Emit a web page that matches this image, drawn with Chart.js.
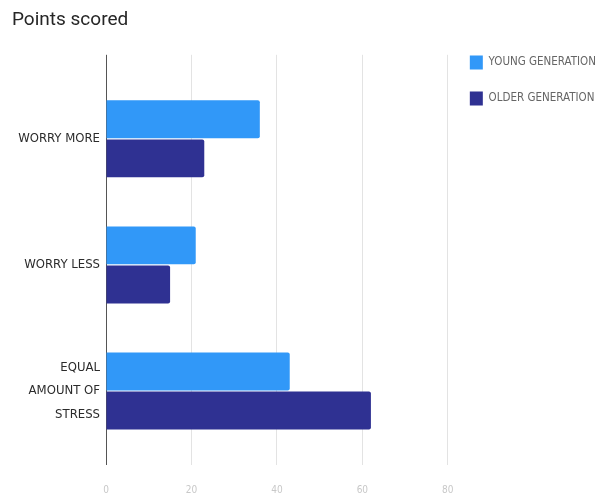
<!DOCTYPE html>
<html>
<head>
<meta charset="utf-8">
<script src="https://cdn.jsdelivr.net/npm/chart.js@4"></script>
<style>
  html, body { margin: 0; padding: 0; background: #fff; }
  #wrap { width: 606px; height: 497px; }
</style>
</head>
<body>
<div id="wrap"><canvas id="grafico"></canvas></div>
<script>
// dados
const categorias = ['WORRY MORE', 'WORRY LESS', ['EQUAL', 'AMOUNT OF', 'STRESS']];
const jovens = [36, 21, 43];
const velhos = [23, 15, 62];
const serieNomes = ['YOUNG GENERATION', 'OLDER GENERATION'];
const eixoMin = 0;
const eixoMax = 80;
const eixoPasso = 20;

const fonteEstreita = "'DejaVu Sans Condensed', 'Roboto', sans-serif";
// linha do zero escura, resto cinza claro
const corGrade = (ctx) => (ctx.tick && ctx.tick.value === 0 ? '#555' : '#e3e3e3');

function desenhar() {
    const ctx = document.getElementById('grafico').getContext('2d');
    new Chart(ctx, {
        type: 'bar',
        data: {
            labels: categorias,
            datasets: [
                {
                    label: serieNomes[0],
                    data: jovens,
                    backgroundColor: '#3198f8',
                    borderRadius: 2,
                    categoryPercentage: 0.62,
                    barPercentage: 0.97
                },
                {
                    label: serieNomes[1],
                    data: velhos,
                    backgroundColor: '#2f3192',
                    borderRadius: 2,
                    categoryPercentage: 0.62,
                    barPercentage: 0.97
                }
            ]
        },
        options: {
            indexAxis: 'y',
            responsive: true,
            maintainAspectRatio: false,
            animation: false,
            layout: { padding: { left: 12, bottom: 0, right: 0, top: 0 } },
            scales: {
                x: {
                    position: 'bottom',
                    min: eixoMin,
                    max: eixoMax,
                    ticks: { stepSize: eixoPasso, color: '#c8c8c8', padding: 19, font: { size: 10, family: fonteEstreita } },
                    grid: { color: corGrade, tickLength: 11, lineWidth: 1 },
                    border: { display: false },
                    afterFit: (s) => { s.height = 43; } // chart.js conta o padding 2x
                },
                x2: {
                    axis: 'x',
                    position: 'top',
                    min: eixoMin,
                    max: eixoMax,
                    ticks: { stepSize: eixoPasso, display: false },
                    grid: { color: corGrade, tickLength: 21, drawOnChartArea: false },
                    border: { display: false }
                },
                y: {
                    ticks: { color: '#2b2b2b', padding: 6, font: { size: 13, family: fonteEstreita, lineHeight: 1.8 } },
                    grid: { display: false, drawTicks: false },
                    border: { display: false },
                    afterFit: (s) => {
                        s.width = 94;
                        s.paddingTop = 0;
                        s.paddingBottom = 0;
                    }
                }
            },
            plugins: {
                title: {
                    display: true,
                    text: 'Points scored',
                    align: 'start',
                    color: '#262626',
                    font: { size: 19, family: 'Roboto', weight: 'normal', lineHeight: 1.2 },
                    padding: { top: 9, bottom: 23 }
                },
                legend: {
                    position: 'right',
                    align: 'start',
                    maxWidth: 159,
                    title: { display: true, text: ' ', padding: 9.5, font: { size: 12 } },
                    labels: {
                        boxWidth: 13,
                        boxHeight: 14,
                        padding: 22,
                        color: '#666',
                        font: { size: 11.5, family: fonteEstreita }
                    }
                },
                tooltip: { enabled: false }
            }
        }
    });
}

// espera as fontes locais para medir o texto certo
Promise.all([
    document.fonts.load("12px 'DejaVu Sans Condensed'"),
    document.fonts.load("19px 'Roboto'")
]).then(desenhar, desenhar);
</script>
</body>
</html>
